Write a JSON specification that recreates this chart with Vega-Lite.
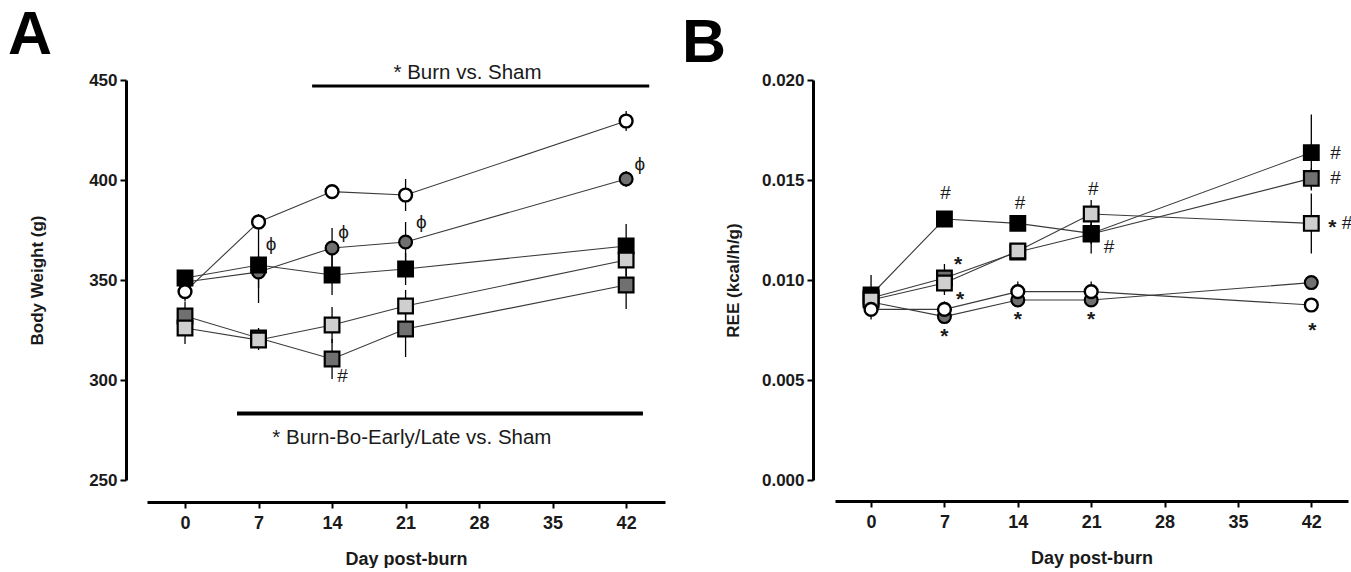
{
  "$schema": "https://vega.github.io/schema/vega-lite/v6.json",
  "padding": {"left": 8, "top": 4, "right": 0, "bottom": 0},
  "background": "#ffffff",
  "config": {
    "font": "Liberation Sans",
    "view": {"stroke": null},
    "axis": {
      "domainColor": "#000000", "domainWidth": 3, "tickColor": "#000000", "tickWidth": 2, "tickSize": 6,
      "labelFont": "Liberation Sans", "labelFontWeight": "bold", "labelColor": "#1a1a1a", "labelPadding": 3,
      "titleFont": "Liberation Sans", "titleFontWeight": "bold", "titleColor": "#1a1a1a", "grid": false
    }
  },
  "bounds": "flush",
  "spacing": 170,
  "datasets": {
    "bw": [
      {"group": "Sham-Bo", "day": 0, "value": 349, "err": 5},
      {"group": "Sham-Bo", "day": 7, "value": 354, "err": 8},
      {"group": "Sham-Bo", "day": 14, "value": 366, "err": 10},
      {"group": "Sham-Bo", "day": 21, "value": 369, "err": 10},
      {"group": "Sham-Bo", "day": 42, "value": 400.5, "err": 4},
      {"group": "Burn-Bo-Late", "day": 0, "value": 332, "err": 7},
      {"group": "Burn-Bo-Late", "day": 7, "value": 321, "err": 5},
      {"group": "Burn-Bo-Late", "day": 14, "value": 310.5, "err": 10},
      {"group": "Burn-Bo-Late", "day": 21, "value": 325.5, "err": 14},
      {"group": "Burn-Bo-Late", "day": 42, "value": 347.5, "err": 12},
      {"group": "Burn", "day": 0, "value": 351, "err": 4},
      {"group": "Burn", "day": 7, "value": 357.5, "err": 19},
      {"group": "Burn", "day": 14, "value": 352.5, "err": 10},
      {"group": "Burn", "day": 21, "value": 355.5, "err": 8},
      {"group": "Burn", "day": 42, "value": 367, "err": 11},
      {"group": "Burn-Bo-Early", "day": 0, "value": 326, "err": 8},
      {"group": "Burn-Bo-Early", "day": 7, "value": 320, "err": 5},
      {"group": "Burn-Bo-Early", "day": 14, "value": 327.5, "err": 9},
      {"group": "Burn-Bo-Early", "day": 21, "value": 337, "err": 8},
      {"group": "Burn-Bo-Early", "day": 42, "value": 360, "err": 8},
      {"group": "Sham", "day": 0, "value": 344.2, "err": 5},
      {"group": "Sham", "day": 7, "value": 379, "err": 4},
      {"group": "Sham", "day": 14, "value": 394.2, "err": 3},
      {"group": "Sham", "day": 21, "value": 392.5, "err": 8},
      {"group": "Sham", "day": 42, "value": 429.5, "err": 5}
    ],
    "ree": [
      {"group": "Sham-Bo", "day": 0, "value": 0.0089, "err": 0.0004},
      {"group": "Sham-Bo", "day": 7, "value": 0.00817, "err": 0.0003},
      {"group": "Sham-Bo", "day": 14, "value": 0.0090, "err": 0.0003},
      {"group": "Sham-Bo", "day": 21, "value": 0.0090, "err": 0.0003},
      {"group": "Sham-Bo", "day": 42, "value": 0.00987, "err": 0.0003},
      {"group": "Burn-Bo-Late", "day": 0, "value": 0.0091, "err": 0.0003},
      {"group": "Burn-Bo-Late", "day": 7, "value": 0.0101, "err": 0.0007},
      {"group": "Burn-Bo-Late", "day": 14, "value": 0.0114, "err": 0.0003},
      {"group": "Burn-Bo-Late", "day": 21, "value": 0.0123, "err": 0.0005},
      {"group": "Burn-Bo-Late", "day": 42, "value": 0.01508, "err": 0.0005},
      {"group": "Burn", "day": 0, "value": 0.00925, "err": 0.001},
      {"group": "Burn", "day": 7, "value": 0.01305, "err": 0.0003},
      {"group": "Burn", "day": 14, "value": 0.01283, "err": 0.0003},
      {"group": "Burn", "day": 21, "value": 0.01233, "err": 0.001},
      {"group": "Burn", "day": 42, "value": 0.01637, "err": 0.0019},
      {"group": "Burn-Bo-Early", "day": 0, "value": 0.0090, "err": 0.0003},
      {"group": "Burn-Bo-Early", "day": 7, "value": 0.00985, "err": 0.0006},
      {"group": "Burn-Bo-Early", "day": 14, "value": 0.01145, "err": 0.0003},
      {"group": "Burn-Bo-Early", "day": 21, "value": 0.0133, "err": 0.0007},
      {"group": "Burn-Bo-Early", "day": 42, "value": 0.01283, "err": 0.0015},
      {"group": "Sham", "day": 0, "value": 0.00853, "err": 0.0005},
      {"group": "Sham", "day": 7, "value": 0.00853, "err": 0.0004},
      {"group": "Sham", "day": 14, "value": 0.00942, "err": 0.0005},
      {"group": "Sham", "day": 21, "value": 0.00942, "err": 0.0005},
      {"group": "Sham", "day": 42, "value": 0.00875, "err": 0.0003}
    ],
    "barsA": [
      {"day": 12.1, "day2": 44.2, "value": 447, "w": "thin"},
      {"day": 4.95, "day2": 43.6, "value": 283.2, "w": "thick"}
    ],
    "textA": [
      {"day": 26.9, "value": 453.5, "label": "*  Burn vs. Sham", "kind": "note"},
      {"day": 21.6, "value": 271, "label": "*  Burn-Bo-Early/Late vs. Sham", "kind": "note"},
      {"day": 8.2, "value": 368, "label": "ϕ", "kind": "sym"},
      {"day": 15.1, "value": 374, "label": "ϕ", "kind": "sym"},
      {"day": 22.5, "value": 379, "label": "ϕ", "kind": "sym"},
      {"day": 43.3, "value": 408, "label": "ϕ", "kind": "sym"},
      {"day": 15.0, "value": 302, "label": "#", "kind": "sym"}
    ],
    "textB": [
      {"day": 7.1, "value": 0.01435, "label": "#"},
      {"day": 14.2, "value": 0.01387, "label": "#"},
      {"day": 21.2, "value": 0.01453, "label": "#"},
      {"day": 22.7, "value": 0.01167, "label": "#"},
      {"day": 44.3, "value": 0.01633, "label": "#"},
      {"day": 44.3, "value": 0.01508, "label": "#"},
      {"day": 45.4, "value": 0.01283, "label": "#"}
    ],
    "starB": [
      {"day": 8.3, "value": 0.0110, "label": "*"},
      {"day": 8.5, "value": 0.00925, "label": "*"},
      {"day": 7.0, "value": 0.00742, "label": "*"},
      {"day": 14.0, "value": 0.00825, "label": "*"},
      {"day": 21.0, "value": 0.00825, "label": "*"},
      {"day": 42.1, "value": 0.0077, "label": "*"},
      {"day": 44.0, "value": 0.01283, "label": "*"}
    ]
  },
  "hconcat": [
    {
      "width": 518,
      "height": 400,
      "title": {"text": "A", "anchor": "start", "frame": "group", "fontSize": 61, "fontWeight": "bold", "font": "Liberation Sans", "color": "#000000", "dx": -139, "offset": -4},
      "encoding": {
        "x": {"field": "day", "type": "quantitative",
              "scale": {"domain": [-3.62, 45.7], "nice": false, "zero": false},
              "axis": {"values": [0, 7, 14, 21, 28, 35, 42], "offset": 22, "title": "Day post-burn", "labelFontSize": 18, "titleFontSize": 18, "labelPadding": 6, "titlePadding": 18}},
        "y": {"field": "value", "type": "quantitative",
              "scale": {"domain": [250, 450], "nice": false, "zero": false},
              "axis": {"values": [250, 300, 350, 400, 450], "offset": 21, "title": "Body Weight (g)", "labelFontSize": 17, "titleFontSize": 17, "titlePadding": 42}}
      },
      "layer": [
        {"data": {"name": "bw"}, "mark": {"type": "line", "color": "#3a3a3a", "strokeWidth": 1.1},
         "encoding": {"detail": {"field": "group"}, "order": {"field": "day", "type": "quantitative"}}},
        {"data": {"name": "bw"}, "mark": {"type": "errorbar", "color": "#000000", "thickness": 1.3},
         "encoding": {"yError": {"field": "err"}, "detail": {"field": "group"}}},
        {"data": {"name": "bw"}, "transform": [{"filter": "datum.group == 'Sham-Bo'"}],
         "mark": {"type": "point", "shape": "circle", "filled": true, "fill": "#707070", "stroke": "#000000", "strokeWidth": 2.2, "size": 165, "opacity": 1}},
        {"data": {"name": "bw"}, "transform": [{"filter": "datum.group != 'Sham-Bo' && datum.group != 'Sham'"}],
         "mark": {"type": "point", "shape": "square", "filled": true, "stroke": "#000000", "strokeWidth": 2.2, "size": 215, "opacity": 1},
         "encoding": {
           "fill": {"field": "group", "type": "nominal", "legend": null,
                    "scale": {"domain": ["Burn", "Burn-Bo-Early", "Burn-Bo-Late"], "range": ["#000000", "#cfcfcf", "#707070"]}}
         }},
        {"data": {"name": "bw"}, "transform": [{"filter": "datum.group == 'Sham'"}],
         "mark": {"type": "point", "shape": "circle", "filled": true, "fill": "#ffffff", "stroke": "#000000", "strokeWidth": 2.4, "size": 165, "opacity": 1}},
        {"data": {"name": "barsA"}, "transform": [{"filter": "datum.w == 'thin'"}], "mark": {"type": "rule", "color": "#000000", "strokeWidth": 3},
         "encoding": {"x2": {"field": "day2"}}},
        {"data": {"name": "barsA"}, "transform": [{"filter": "datum.w == 'thick'"}], "mark": {"type": "rule", "color": "#000000", "strokeWidth": 4},
         "encoding": {"x2": {"field": "day2"}}},
        {"data": {"name": "textA"}, "transform": [{"filter": "datum.kind == 'note'"}], "mark": {"type": "text", "fontSize": 20.5, "color": "#1a1a1a", "baseline": "middle"},
         "encoding": {"text": {"field": "label"}}},
        {"data": {"name": "textA"}, "transform": [{"filter": "datum.kind == 'sym'"}], "mark": {"type": "text", "fontSize": 19, "color": "#1a1a1a", "baseline": "middle"},
         "encoding": {"text": {"field": "label"}}}
      ]
    },
    {
      "width": 513,
      "height": 400,
      "title": {"text": "B", "anchor": "start", "frame": "group", "fontSize": 61, "fontWeight": "bold", "font": "Liberation Sans", "color": "#000000", "dx": -153, "offset": -4},
      "encoding": {
        "x": {"field": "day", "type": "quantitative",
              "scale": {"domain": [-3.44, 45.5], "nice": false, "zero": false},
              "axis": {"values": [0, 7, 14, 21, 28, 35, 42], "offset": 21, "title": "Day post-burn", "labelFontSize": 18, "titleFontSize": 18, "labelPadding": 6, "titlePadding": 18}},
        "y": {"field": "value", "type": "quantitative",
              "scale": {"domain": [0, 0.02], "nice": false, "zero": false},
              "axis": {"values": [0, 0.005, 0.01, 0.015, 0.02], "format": ".3f", "offset": 22, "title": "REE (kcal/h/g)", "labelFontSize": 17, "titleFontSize": 17, "titlePadding": 19}}
      },
      "layer": [
        {"data": {"name": "ree"}, "mark": {"type": "line", "color": "#3a3a3a", "strokeWidth": 1.1},
         "encoding": {"detail": {"field": "group"}, "order": {"field": "day", "type": "quantitative"}}},
        {"data": {"name": "ree"}, "mark": {"type": "errorbar", "color": "#000000", "thickness": 1.3},
         "encoding": {"yError": {"field": "err"}, "detail": {"field": "group"}}},
        {"data": {"name": "ree"}, "transform": [{"filter": "datum.group == 'Sham-Bo'"}],
         "mark": {"type": "point", "shape": "circle", "filled": true, "fill": "#707070", "stroke": "#000000", "strokeWidth": 2.2, "size": 165, "opacity": 1}},
        {"data": {"name": "ree"}, "transform": [{"filter": "datum.group != 'Sham-Bo' && datum.group != 'Sham'"}],
         "mark": {"type": "point", "shape": "square", "filled": true, "stroke": "#000000", "strokeWidth": 2.2, "size": 215, "opacity": 1},
         "encoding": {
           "fill": {"field": "group", "type": "nominal", "legend": null,
                    "scale": {"domain": ["Burn", "Burn-Bo-Early", "Burn-Bo-Late"], "range": ["#000000", "#cfcfcf", "#707070"]}}
         }},
        {"data": {"name": "ree"}, "transform": [{"filter": "datum.group == 'Sham'"}],
         "mark": {"type": "point", "shape": "circle", "filled": true, "fill": "#ffffff", "stroke": "#000000", "strokeWidth": 2.4, "size": 165, "opacity": 1}},
        {"data": {"name": "textB"}, "mark": {"type": "text", "fontSize": 19, "color": "#1a1a1a", "baseline": "middle"},
         "encoding": {"text": {"field": "label"}}},
        {"data": {"name": "starB"}, "mark": {"type": "text", "fontSize": 21, "fontWeight": "bold", "color": "#1a1a1a", "baseline": "middle", "dy": 5},
         "encoding": {"text": {"field": "label"}}}
      ]
    }
  ],
  "resolve": {"scale": {"fill": "independent"}}
}
